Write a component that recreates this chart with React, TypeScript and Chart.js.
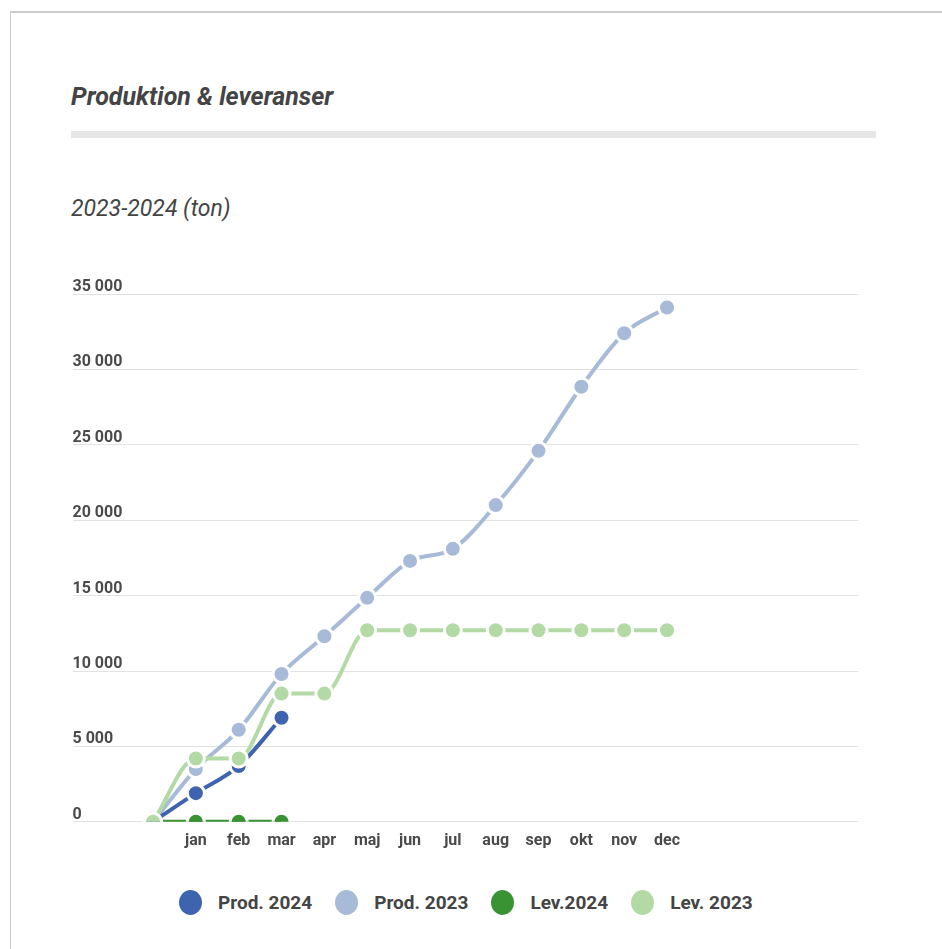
import React, { useEffect, useRef } from "react";
import { Chart, registerables } from "chart.js";

Chart.register(...registerables);

const monthLabels = ["", "jan", "feb", "mar", "apr", "maj", "jun", "jul", "aug", "sep", "okt", "nov", "dec"];
const prod2024 = [0, 1900, 3700, 6900];
const prod2023 = [0, 3500, 6100, 9800, 12300, 14850, 17300, 18100, 21000, 24600, 28850, 32400, 34100];
const lev2024 = [0, 0, 0, 0];
const lev2023 = [0, 4200, 4200, 8500, 8500, 12700, 12700, 12700, 12700, 12700, 12700, 12700, 12700];
const yTicks = [0, 5000, 10000, 15000, 20000, 25000, 30000, 35000];

const seriesNames = ["Prod. 2024", "Prod. 2023", "Lev.2024", "Lev. 2023"];
const seriesColors = ["#3e64b0", "#a7bad7", "#3a9333", "#b3d9a5"];
const seriesData = [prod2024, prod2023, lev2024, lev2023];
const seriesOrder = [2, 3, 4, 0];

const fmt = (v: number) => String(v).replace(/\B(?=(\d{3})+(?!\d))/g, " ");

export default function App() {
  const ref = useRef<HTMLCanvasElement | null>(null);
  useEffect(() => {
    if (!ref.current) return;
    const chart = new Chart(ref.current, {
      type: "line",
      data: {
        datasets: seriesData.map((vals, k) => ({
          label: seriesNames[k],
          data: vals.map((y, i) => ({ x: i, y })),
          borderColor: seriesColors[k],
          backgroundColor: seriesColors[k],
          pointBackgroundColor: seriesColors[k],
          pointBorderColor: "#ffffff",
          pointBorderWidth: 3,
          pointRadius: 8.5,
          borderWidth: 4,
          cubicInterpolationMode: "monotone" as const,
          fill: false,
          order: seriesOrder[k],
        })),
      },
      options: {
        animation: false,
        responsive: false,
        maintainAspectRatio: false,
        layout: { padding: { left: 10, right: 10, top: 32, bottom: 5 } },
        scales: {
          x: {
            type: "linear",
            min: -1.88,
            max: 16.47,
            grid: { display: false, drawTicks: false },
            border: { display: false },
            afterBuildTicks: (axis: any) => {
              axis.ticks = monthLabels.map((_, i) => ({ value: i }));
            },
            ticks: {
              autoSkip: false,
              maxRotation: 0,
              padding: 10,
              color: "#4a4a4a",
              font: { family: "Roboto", size: 16, weight: "bold" },
              callback: (v: any) => monthLabels[v] ?? "",
            },
          },
          y: {
            min: 0,
            max: 35000,
            afterBuildTicks: (axis: any) => {
              axis.ticks = yTicks.map((v) => ({ value: v }));
            },
            grid: { color: "#e2e2e2", lineWidth: 1, drawTicks: false },
            border: { display: false },
            ticks: {
              mirror: true,
              padding: 0,
              labelOffset: -7,
              color: "#4a4a4a",
              font: { family: "Roboto", size: 16, weight: "bold" },
              callback: (v: any) => fmt(Number(v)),
            },
          },
        },
        plugins: {
          tooltip: { enabled: false },
          legend: { display: false },
        },
      },
    });
    return () => chart.destroy();
  }, []);

  return (
    <div style={{ position: "fixed", inset: 0, overflow: "hidden", background: "#fff" }}>
      <div
        style={{
          position: "absolute",
          left: 10,
          top: 11,
          width: 1100,
          height: 1100,
          borderTop: "2px solid #cccccc",
          borderLeft: "1px solid #cccccc",
        }}
      />
      <div
        style={{
          position: "absolute",
          left: 71,
          top: 82,
          fontFamily: "Roboto",
          fontWeight: "bold",
          fontStyle: "italic",
          fontSize: 25,
          color: "#444",
          lineHeight: "30px",
          whiteSpace: "nowrap",
        }}
      >
        Produktion &amp; leveranser
      </div>
      <div style={{ position: "absolute", left: 71, top: 131, width: 805, height: 7, background: "#e6e6e6" }} />
      <div
        style={{
          position: "absolute",
          left: 71,
          top: 194,
          fontFamily: "Roboto",
          fontStyle: "italic",
          fontSize: 23,
          color: "#444",
          lineHeight: "30px",
          whiteSpace: "nowrap",
        }}
      >
        2023-2024 (ton)
      </div>
      <canvas
        ref={ref}
        width={809}
        height={604}
        style={{ position: "absolute", left: 61, top: 262, width: 809, height: 604 }}
      />
      <div
        style={{
          position: "absolute",
          left: 179,
          top: 889,
          height: 26,
          display: "flex",
          alignItems: "center",
          fontFamily: "Roboto",
          fontWeight: "bold",
          fontSize: 19,
          color: "#444",
          whiteSpace: "nowrap",
        }}
      >
        {seriesNames.map((name, k) => (
          <div key={name} style={{ display: "flex", alignItems: "center", marginRight: 23 }}>
            <span
              style={{
                display: "inline-block",
                width: 23,
                height: 25,
                borderRadius: "50%",
                background: seriesColors[k],
                marginRight: 16,
              }}
            />
            <span>{name}</span>
          </div>
        ))}
      </div>
    </div>
  );
}
